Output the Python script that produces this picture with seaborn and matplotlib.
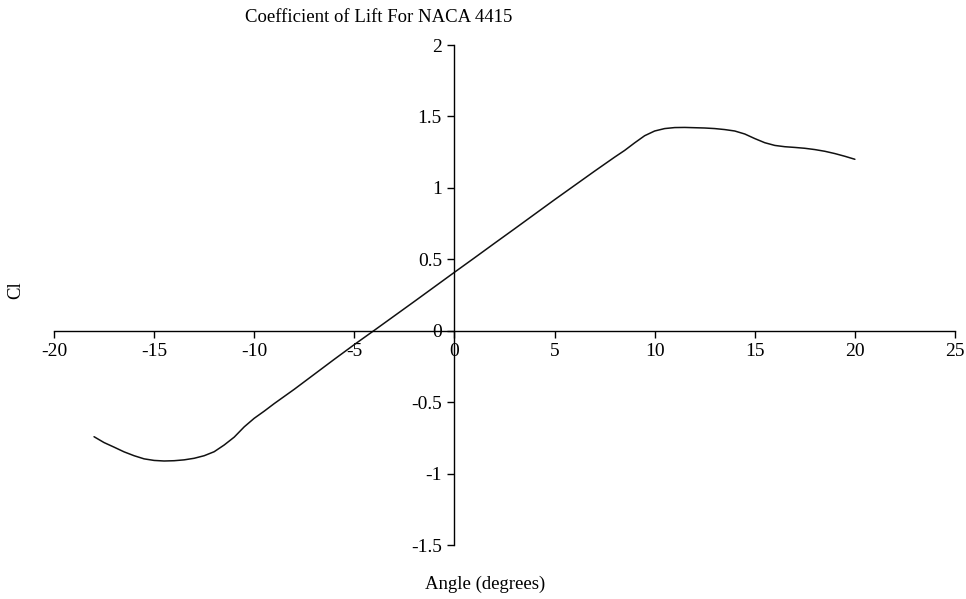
import matplotlib
matplotlib.use("Agg")
import matplotlib.pyplot as plt
import seaborn as sns
import pandas as pd

angle = [-18, -17.5, -17, -16.5, -16, -15.5, -15, -14.5, -14, -13.5, -13, -12.5,
         -12, -11.5, -11, -10.5, -10, -9.5, -9, -8, -7, -6, -5, -4, -3, -2, -1,
         0, 1, 2, 3, 4, 5, 6, 7, 8, 8.5, 9, 9.5, 10, 10.5, 11, 11.5, 12, 12.5,
         13, 13.5, 14, 14.5, 15, 15.5, 16, 16.5, 17, 17.5, 18, 18.5, 19, 19.5, 20]
cl = [-0.742, -0.783, -0.815, -0.848, -0.875, -0.897, -0.908, -0.912, -0.910,
      -0.904, -0.893, -0.875, -0.847, -0.800, -0.745, -0.673, -0.613, -0.563,
      -0.51, -0.41, -0.305, -0.20, -0.097, 0.003, 0.104, 0.205, 0.307, 0.409,
      0.51, 0.612, 0.713, 0.815, 0.917, 1.017, 1.117, 1.215, 1.262, 1.315, 1.365,
      1.398, 1.415, 1.422, 1.423, 1.421, 1.419, 1.415, 1.408, 1.398, 1.377,
      1.345, 1.316, 1.297, 1.288, 1.283, 1.277, 1.268, 1.256, 1.24, 1.221, 1.20]
x_ticks = [-20, -15, -10, -5, 0, 5, 10, 15, 20, 25]
y_ticks = [-1.5, -1, -0.5, 0, 0.5, 1, 1.5, 2]

title = "Coefficient of Lift For NACA 4415"
xlabel = "Angle (degrees)"
ylabel = "Cl"

sns.set_style("white")
plt.rcParams['font.family'] = ['Liberation Serif', 'DejaVu Serif']
plt.rcParams['text.color'] = 'black'

df = pd.DataFrame({"angle": angle, "cl": cl})

fig = plt.figure(figsize=(9.66, 5.99), dpi=100)
ax = fig.add_axes([54/966, (599-545)/599, 901/966, 500/599])
sns.lineplot(data=df, x="angle", y="cl", ax=ax, color="#111111", linewidth=1.1)

ax.set_xlim(-20, 25)
ax.set_ylim(-1.5, 2)
ax.spines['left'].set_position(('data', 0))
ax.spines['bottom'].set_position(('data', 0))
ax.spines['right'].set_visible(False)
ax.spines['top'].set_visible(False)
for s in ('left', 'bottom'):
    ax.spines[s].set_color('black')
    ax.spines[s].set_linewidth(1.0)

ax.set_xticks(x_ticks)
ax.set_xticklabels([str(t) for t in x_ticks])
ax.set_yticks(y_ticks)
ax.set_yticklabels([f"{t:g}" for t in y_ticks])
ax.tick_params(axis='both', direction='out', length=5, width=1, color='black',
               labelsize=14, labelcolor='black', pad=4)
ax.xaxis.set_ticks_position('bottom')
ax.yaxis.set_ticks_position('left')
ax.set_xlabel("")
ax.set_ylabel("")
ax.grid(False)

fig.text(379/966, 1 - 18/599, title, ha='center', va='center', fontsize=13.5, color='black')
fig.text(485/966, 1 - 584/599, xlabel, ha='center', va='center', fontsize=13.5, color='black')
fig.text(16/966, 1 - 290/599, ylabel, ha='center', va='center', fontsize=13.5,
         rotation=90, color='black')

fig.savefig("out.png", dpi=100)
